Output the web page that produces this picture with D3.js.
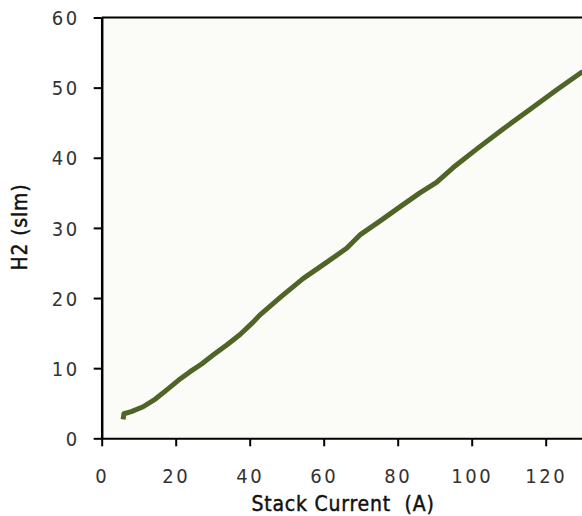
<!DOCTYPE html>
<html>
<head>
<meta charset="utf-8">
<script src="https://cdn.jsdelivr.net/npm/d3@7/dist/d3.min.js"></script>
<style>
  html, body { margin: 0; padding: 0; background: #ffffff; }
  svg { display: block; }
  .tick-label { font-family: "DejaVu Sans Condensed", "DejaVu Sans", sans-serif; font-size: 20px; fill: #333; letter-spacing: 2.5px; }
  .axis-title { font-family: "DejaVu Sans Condensed", "DejaVu Sans", sans-serif; font-size: 21px; fill: #111; stroke: #111; stroke-width: 0.45px; letter-spacing: 0.8px; }
</style>
</head>
<body>
<script>
// Stack current (A) vs hydrogen flow (slm)
const stackCurrent = [5.8, 6.0, 8.0, 11.2, 14.5, 17.6, 20.8, 23.9, 27.0, 30.2, 33.8, 37.4, 41.0, 42.8, 48.5, 54.5, 60.3, 66.2, 69.8, 75.0, 80.6, 86.0, 90.5, 95.0, 101.5, 108.5, 116.0, 123.0, 130.0];
const h2Flow       = [2.7, 3.5, 3.8, 4.5, 5.6, 6.9, 8.3, 9.5, 10.6, 11.9, 13.3, 14.8, 16.6, 17.6, 20.2, 22.8, 24.9, 27.1, 29.0, 30.9, 33.0, 35.0, 36.5, 38.6, 41.3, 44.1, 47.0, 49.7, 52.3];
const xTicks = [0, 20, 40, 60, 80, 100, 120];
const yTicks = [0, 10, 20, 30, 40, 50, 60];

const W = 582, H = 516;
const svg = d3.select("body").append("svg").attr("width", W).attr("height", H);

const x = d3.scaleLinear().domain([0, 130]).range([101.7, 582.7]);
const y = d3.scaleLinear().domain([0, 60]).range([438.3, 17.5]);

// plot area background
svg.append("rect")
  .attr("x", x(0)).attr("y", y(60))
  .attr("width", W - x(0)).attr("height", y(0) - y(60))
  .attr("fill", "#fbfbf7");

// top frame line
svg.append("line")
  .attr("x1", x(0)).attr("x2", W)
  .attr("y1", y(60)).attr("y2", y(60))
  .attr("stroke", "#000").attr("stroke-width", 2);

// y axis
const yAxis = svg.append("g").attr("transform", `translate(${x(0)},0)`)
  .call(d3.axisLeft(y).tickValues(yTicks).tickSize(8).tickSizeOuter(0).tickPadding(14).tickFormat(d3.format("d")));
yAxis.select(".domain").attr("stroke", "#000").attr("stroke-width", 2.5);
yAxis.selectAll(".tick line").attr("stroke", "#000").attr("stroke-width", 2);
yAxis.selectAll(".tick text").attr("class", "tick-label").attr("font-size", null).attr("font-family", null).attr("fill", null).attr("dy", "0.36em");

// x axis
const xAxis = svg.append("g").attr("transform", `translate(0,${y(0)})`)
  .call(d3.axisBottom(x).tickValues(xTicks).tickSize(8).tickSizeOuter(0).tickPadding(23).tickFormat(d3.format("d")));
xAxis.select(".domain").attr("stroke", "#000").attr("stroke-width", 2);
xAxis.selectAll(".tick line").attr("stroke", "#000").attr("stroke-width", 2);
xAxis.selectAll(".tick text").attr("class", "tick-label").attr("font-size", null).attr("font-family", null).attr("fill", null);

// data line
const pts = stackCurrent.map((c, i) => [c, h2Flow[i]]);
svg.append("path")
  .datum(pts)
  .attr("fill", "none")
  .attr("stroke", "#4f6427")
  .attr("stroke-width", 5)
  .attr("stroke-linejoin", "round")
  .attr("d", d3.line().x(d => x(d[0])).y(d => y(d[1])));

// axis titles
svg.append("text").attr("class", "axis-title")
  .attr("x", 343).attr("y", 511)
  .attr("text-anchor", "middle")
  .attr("xml:space", "preserve")
  .text("Stack Current  (A)");

svg.append("text").attr("class", "axis-title")
  .attr("transform", "translate(27,227) rotate(-90)")
  .attr("text-anchor", "middle")
  .text("H2 (slm)");
</script>
</body>
</html>
